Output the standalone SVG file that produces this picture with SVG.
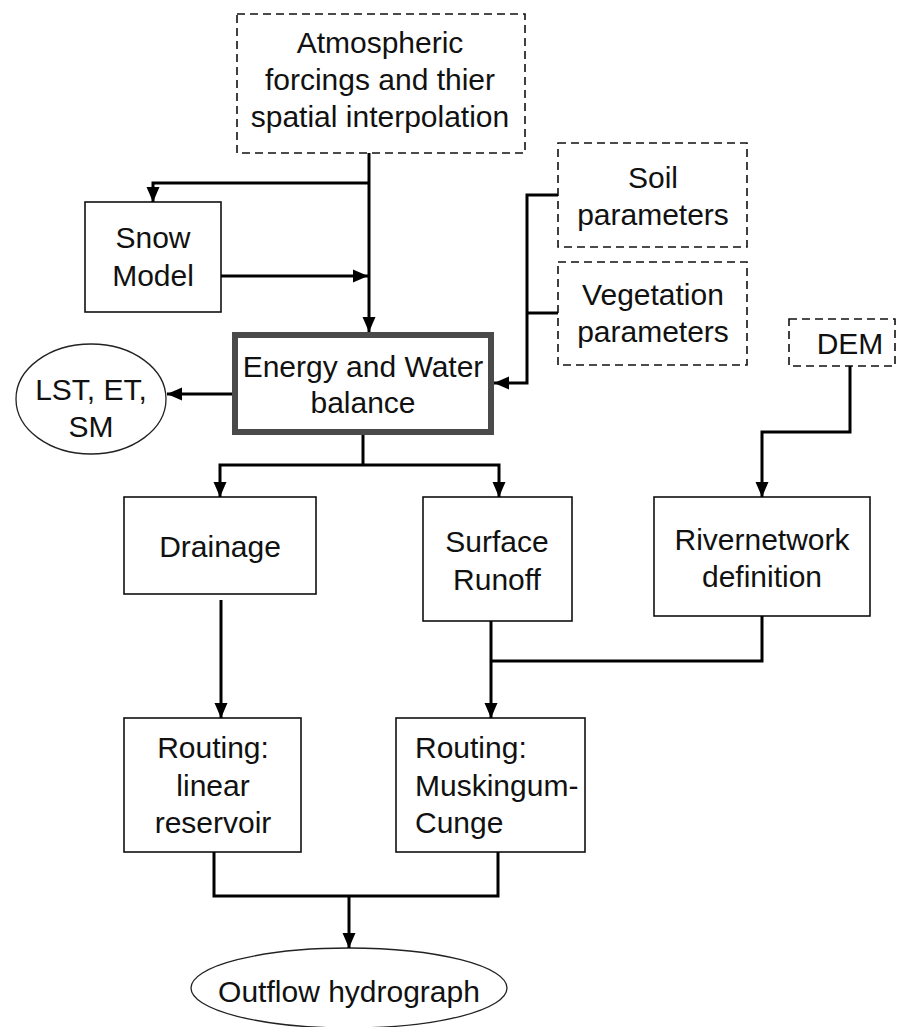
<svg xmlns="http://www.w3.org/2000/svg" width="898" height="1027" viewBox="0 0 898 1027">
<style>
  text { font-family: "Liberation Sans", Arial, sans-serif; font-size: 30px; fill: #111; text-anchor: middle; }
  .box { fill: #fff; stroke: #111; stroke-width: 1.6; }
  .dash { fill: #fff; stroke: #111; stroke-width: 1.6; stroke-dasharray: 8 5; }
  .thick { fill: #fff; stroke: #4a4a4a; stroke-width: 6; }
  .ell { fill: #fff; stroke: #222; stroke-width: 1.3; }
  .c { fill: none; stroke: #000; stroke-width: 3; }
</style>
<defs>
  <marker id="arr" markerUnits="userSpaceOnUse" markerWidth="16" markerHeight="16" viewBox="0 0 16 16" refX="15" refY="8" orient="auto">
    <path d="M0,1.5 L15,8 L0,14.5 Z" fill="#000"/>
  </marker>
</defs>
<rect width="898" height="1027" fill="#fff"/>

<g id="atmospheric">
  <rect class="dash" x="237" y="14" width="288" height="139"/>
  <text x="380" y="53">Atmospheric</text>
  <text x="380" y="90">forcings and thier</text>
  <text x="380" y="127">spatial interpolation</text>
</g>
<g id="snow">
  <rect class="box" x="85" y="202" width="136" height="110"/>
  <text x="153" y="248">Snow</text>
  <text x="153" y="286">Model</text>
</g>
<g id="soil">
  <rect class="dash" x="558" y="143" width="189" height="104"/>
  <text x="653" y="188">Soil</text>
  <text x="653" y="225">parameters</text>
</g>
<g id="vegetation">
  <rect class="dash" x="558" y="262" width="189" height="103"/>
  <text x="653" y="305">Vegetation</text>
  <text x="653" y="342">parameters</text>
</g>
<g id="dem">
  <rect class="dash" x="789" y="319" width="106" height="47"/>
  <text x="850" y="354">DEM</text>
</g>
<g id="energy">
  <rect class="thick" x="235" y="335" width="256" height="97"/>
  <text x="363" y="377">Energy and Water</text>
  <text x="363" y="413">balance</text>
</g>
<g id="lst">
  <ellipse class="ell" cx="91" cy="399" rx="75" ry="55"/>
  <text x="91" y="400">LST, ET,</text>
  <text x="91" y="437">SM</text>
</g>
<g id="drainage">
  <rect class="box" x="124" y="497" width="192" height="97"/>
  <text x="220" y="557">Drainage</text>
</g>
<g id="surface">
  <rect class="box" x="423" y="497" width="149" height="124"/>
  <text x="497" y="552">Surface</text>
  <text x="497" y="590">Runoff</text>
</g>
<g id="river">
  <rect class="box" x="654" y="497" width="216" height="119"/>
  <text x="762" y="550">Rivernetwork</text>
  <text x="762" y="587">definition</text>
</g>
<g id="routing-linear">
  <rect class="box" x="124" y="718" width="177" height="134"/>
  <text x="213" y="758">Routing:</text>
  <text x="213" y="796">linear</text>
  <text x="213" y="833">reservoir</text>
</g>
<g id="routing-mc">
  <rect class="box" x="396" y="718" width="189" height="134"/>
  <text x="415" y="758" style="text-anchor:start">Routing:</text>
  <text x="415" y="796" style="text-anchor:start">Muskingum-</text>
  <text x="415" y="833" style="text-anchor:start">Cunge</text>
</g>
<g id="outflow">
  <ellipse class="ell" cx="349" cy="988" rx="158" ry="40"/>
  <text x="349" y="1002">Outflow hydrograph</text>
</g>

<g id="connectors">
  <path class="c" d="M369,153 V332" marker-end="url(#arr)"/>
  <path class="c" d="M369,183 H153 V202" marker-end="url(#arr)"/>
  <path class="c" d="M221,276 H368" marker-end="url(#arr)"/>
  <path class="c" d="M558,195 H527 V383 H494" marker-end="url(#arr)"/>
  <path class="c" d="M558,313 H527"/>
  <path class="c" d="M232,394 H167" marker-end="url(#arr)"/>
  <path class="c" d="M363,435 V465"/>
  <path class="c" d="M363,465 H220 V497" marker-end="url(#arr)"/>
  <path class="c" d="M363,465 H499 V497" marker-end="url(#arr)"/>
  <path class="c" d="M850,366 V432 H762 V497" marker-end="url(#arr)"/>
  <path class="c" d="M221,600 V718" marker-end="url(#arr)"/>
  <path class="c" d="M491,621 V718" marker-end="url(#arr)"/>
  <path class="c" d="M762,616 V661 H491"/>
  <path class="c" d="M214,852 V896 H498 V852"/>
  <path class="c" d="M349,896 V948" marker-end="url(#arr)"/>
</g>
</svg>
